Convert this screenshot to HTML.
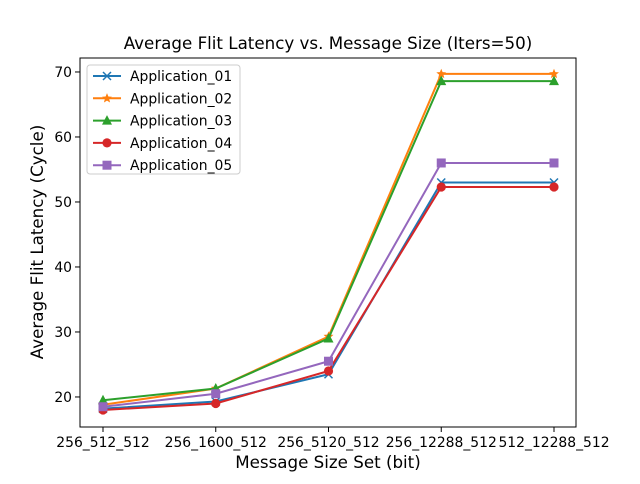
<!DOCTYPE html>
<html><head><meta charset="utf-8"><style>
body{margin:0;background:#fff;font-family:"DejaVu Sans","Liberation Sans",sans-serif}
svg text{font-family:"DejaVu Sans","Liberation Sans",sans-serif}
</style></head><body>
<svg id="c" width="640" height="480" xmlns="http://www.w3.org/2000/svg"></svg>
<script>
const categories=["256_512_512","256_1600_512","256_5120_512","256_12288_512","512_12288_512"];
const seriesNames=["Application_01","Application_02","Application_03","Application_04","Application_05"];
const app01=[18.2,19.3,23.5,53.0,53.0];
const app02=[18.8,21.3,29.3,69.7,69.7];
const app03=[19.5,21.3,29.0,68.6,68.6];
const app04=[18.0,19.0,24.0,52.3,52.3];
const app05=[18.5,20.5,25.5,56.0,56.0];
const yTicks=[20,30,40,50,60,70];
const colors=["#1f77b4","#ff7f0e","#2ca02c","#d62728","#9467bd"];
const markers=["x","star","tri","circ","sq"];
const series=[app01,app02,app03,app04,app05];
const L=80,R=576,T=58,B=427;
const yMin=15.38,yMax=72.15;
const x=i=>103+i*(554-103)/(categories.length-1);
const y=v=>B-(v-yMin)/(yMax-yMin)*(B-T);
const svg=document.getElementById('c');const NS="http://www.w3.org/2000/svg";
function mk(t,a,p){const e=document.createElementNS(NS,t);for(const k in a)e.setAttribute(k,a[k]);(p||svg).appendChild(e);return e;}
function txt(s,a,p){const e=mk('text',a,p);e.textContent=s;return e;}
let t=txt("Average Flit Latency vs. Message Size (Iters=50)",{x:328,y:49,'font-size':16.7,'text-anchor':'middle'});


categories.forEach((c,i)=>{
 const g=mk('g',{});
 
 
 mk('line',{x1:x(i),x2:x(i),y1:B,y2:B+5,stroke:'#000'},g);
 txt(c,{x:x(i),y:B+20,'font-size':13.9,'text-anchor':'middle'},g);
});
yTicks.forEach(v=>{
 const g=mk('g',{});
 
 
 mk('line',{x1:L-5,x2:L,y1:y(v),y2:y(v),stroke:'#000'},g);
 txt(String(v),{x:L-8,y:y(v)+5,'font-size':13.9,'text-anchor':'end'},g);
});
t=txt("Message Size Set (bit)",{x:328,y:468,'font-size':16.7,'text-anchor':'middle'});


t=txt("Average Flit Latency (Cycle)",{x:0,y:0,'font-size':16.7,'text-anchor':'middle',transform:'translate(43,242) rotate(-90)'});


function marker(m,cx,cy,col,p){
 if(m==='x'){mk('path',{d:`M${cx-4} ${cy-4}L${cx+4} ${cy+4}M${cx-4} ${cy+4}L${cx+4} ${cy-4}`,stroke:col,'stroke-width':1.5},p);}
 else if(m==='circ')mk('circle',{cx,cy,r:4.6,fill:col},p);
 else if(m==='sq')mk('rect',{x:cx-4.5,y:cy-4.5,width:9,height:9,fill:col},p);
 else if(m==='tri')mk('path',{d:`M${cx} ${cy-5.5}L${cx+5} ${cy+4}L${cx-5} ${cy+4}Z`,fill:col},p);
 else {let d='';for(let k=0;k<10;k++){const a=-Math.PI/2+k*Math.PI/5,r=k%2?2.3:5.2;d+=(k?'L':'M')+(cx+r*Math.cos(a))+' '+(cy+r*Math.sin(a));}mk('path',{d:d+'Z',fill:col},p);}
}
series.forEach((s,si)=>{
 const g=mk('g',{});
 
 
 mk('polyline',{points:s.map((v,i)=>x(i)+','+y(v)).join(' '),fill:'none',stroke:colors[si],'stroke-width':2}, g);
 s.forEach((v,i)=>marker(markers[si],x(i),y(v),colors[si],g));
});
const fr=mk('rect',{x:L,y:T,width:R-L,height:B-T,fill:'none',stroke:'#000','stroke-width':1});


const lg=mk('g',{});


mk('rect',{x:87,y:65,width:153,height:109,rx:3,fill:'#fff','fill-opacity':0.8,stroke:'#ccc'},lg);
seriesNames.forEach((n,i)=>{
 const g=mk('g',{},lg);
 
 
 const yy=76+i*22.3;
 mk('line',{x1:93,x2:121,y1:yy,y2:yy,stroke:colors[i],'stroke-width':2},g);
 marker(markers[i],107,yy,colors[i],g);
 txt(n,{x:130,y:yy+5,'font-size':13.9},g);
});
</script>
</body></html>
